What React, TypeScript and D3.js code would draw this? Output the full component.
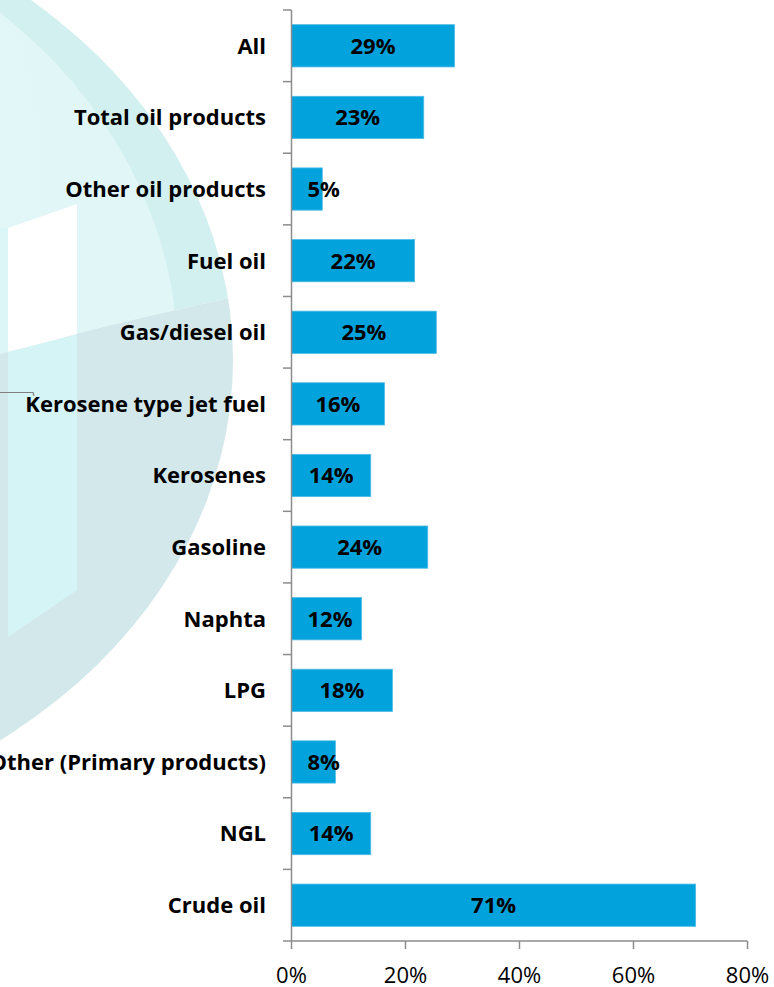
import React from "react";
import * as d3 from "d3";

const categories = [
  "All",
  "Total oil products",
  "Other oil products",
  "Fuel oil",
  "Gas/diesel oil",
  "Kerosene type jet fuel",
  "Kerosenes",
  "Gasoline",
  "Naphta",
  "LPG",
  "Other (Primary products)",
  "NGL",
  "Crude oil",
];
const values = [28.6, 23.2, 5.4, 21.6, 25.4, 16.3, 13.9, 23.9, 12.3, 17.7, 7.7, 13.9, 70.9];
const valueLabels = ["29%", "23%", "5%", "22%", "25%", "16%", "14%", "24%", "12%", "18%", "8%", "14%", "71%"];
const xTicks = [0, 20, 40, 60, 80];

const W = 774;
const H = 987;
const FONT = "'Open Sans', Lato, 'Liberation Sans', sans-serif";
const FS = 22;

function measure(text: string, weight: string, size: number) {
  if (typeof document === "undefined") return text.length * size * 0.6;
  const c = document.createElement("canvas");
  const ctx = c.getContext("2d");
  if (!ctx) return text.length * size * 0.6;
  ctx.font = `${weight} ${size}px ${FONT}`;
  return ctx.measureText(text).width;
}

export default function App() {
  const x = d3.scaleLinear().domain([0, 80]).range([291.5, 747.5]);
  const y = d3
    .scaleBand<string>()
    .domain(categories)
    .range([10, 941])
    .paddingInner(0.41)
    .paddingOuter(0.205);
  const band = (941 - 10) / categories.length;
  const boundaries = d3.range(categories.length + 1).map((i) => 10 + i * band);
  const axisColor = "#8c8c8c";

  // watermark geometry
  const oc = { cx: -367, cy: 360, rx: 600, ry: 481 };
  const ic = { cx: -367, cy: 360, rx: 545, ry: 470 };
  const diag = "Q 130 318 -10 356";

  return (
    <svg
      width={W}
      height={H}
      style={{ position: "absolute", left: 0, top: 0, background: "#fff" }}
      fontFamily={FONT}
    >
      <defs>
        <clipPath id="upperClip">
          <path d={`M -10 -10 L 300 -10 L 300 283 ${diag} Z`} />
        </clipPath>
        <clipPath id="lowerClip">
          <path d={`M -10 1000 L 300 1000 L 300 283 ${diag} Z`} />
        </clipPath>
        <radialGradient id="innerGrad" cx="0" cy="0.35" r="0.9">
          <stop offset="0" stopColor="#f3fcfc" />
          <stop offset="0.6" stopColor="#e8f9f9" />
          <stop offset="1" stopColor="#e1f6f7" />
        </radialGradient>
      </defs>
      {/* watermark */}
      <g>
        <ellipse {...oc} fill="#d3f0f1" clipPath="url(#upperClip)" />
        <ellipse {...oc} fill="#d3e8ea" clipPath="url(#lowerClip)" />
        <ellipse {...ic} fill="url(#innerGrad)" clipPath="url(#upperClip)" />
        <path d="M -10 228 L 8 228 L 8 352 L -10 357 Z" fill="#dcf5f6" />
        <path d="M 8 228 L 77 204 L 77 334 Q 45 343 8 352 Z" fill="#ffffff" />
        <path d="M 8 352 Q 45 343 77 334 L 77 590 L 8 637 Z" fill="#d5f4f5" />
      </g>
      {/* leader line */}
      <path d="M 0 392.5 L 33 392.5 L 34 396" fill="none" stroke="#7f7f7f" strokeWidth={1.2} />

      {/* bars */}
      {categories.map((c, i) => (
        <rect
          key={c}
          x={x(0)}
          y={y(c)!}
          width={x(values[i]) - x(0)}
          height={y.bandwidth()}
          fill="#02a3dc"
          stroke="#4ebbe6"
          strokeWidth={0.8}
        />
      ))}

      {/* value labels */}
      {categories.map((c, i) => {
        const w = measure(valueLabels[i], "bold", FS);
        const center = (x(0) + x(values[i])) / 2;
        const left = Math.max(center - w / 2, x(0) + 16);
        return (
          <text
            key={"v" + c}
            x={left}
            y={y(c)! + y.bandwidth() / 2}
            dy="0.36em"
            fontSize={FS}
            fontWeight="bold"
            fill="#000"
          >
            {valueLabels[i]}
          </text>
        );
      })}

      {/* category labels */}
      {categories.map((c) => (
        <text
          key={"c" + c}
          x={266}
          y={y(c)! + y.bandwidth() / 2}
          dy="0.36em"
          textAnchor="end"
          fontSize={FS}
          fontWeight="bold"
          fill="#000"
        >
          {c}
        </text>
      ))}

      {/* y axis */}
      <line x1={x(0)} x2={x(0)} y1={10} y2={941} stroke={axisColor} strokeWidth={1.5} />
      {boundaries.map((b, i) => (
        <line key={"yt" + i} x1={283} x2={x(0)} y1={b} y2={b} stroke={axisColor} strokeWidth={1.5} />
      ))}

      {/* x axis */}
      <line x1={x(0)} x2={x(80)} y1={941} y2={941} stroke={axisColor} strokeWidth={1.5} />
      {xTicks.map((t) => (
        <g key={"xt" + t}>
          <line x1={x(t)} x2={x(t)} y1={941} y2={949} stroke={axisColor} strokeWidth={1.5} />
          <text x={x(t)} y={983} textAnchor="middle" fontSize={FS} fill="#000">
            {t}%
          </text>
        </g>
      ))}
    </svg>
  );
}
